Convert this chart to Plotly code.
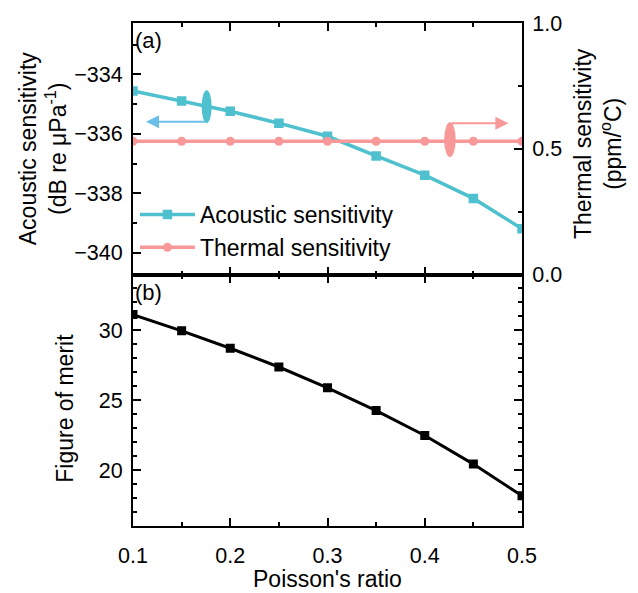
import plotly.graph_objects as go

# ---- data ----
poisson = [0.10, 0.15, 0.20, 0.25, 0.30, 0.35, 0.40, 0.45, 0.50]
acoustic = [-334.56, -334.89, -335.24, -335.64, -336.08, -336.74, -337.39, -338.17, -339.19]
thermal = [0.53, 0.53, 0.53, 0.53, 0.53, 0.53, 0.53, 0.53, 0.53]
fom = [31.13, 29.97, 28.72, 27.38, 25.89, 24.26, 22.48, 20.43, 18.16]

TEAL = "#4FC0CE"
PINK = "#F89898"
ARROW_BLUE = "#6BC0EA"
FONT = "Arial, Liberation Sans, sans-serif"
TITLE_SIZE = 23

fig = go.Figure()
fig.add_trace(go.Scatter(x=poisson, y=acoustic, name="Acoustic sensitivity",
                         mode="lines+markers", xaxis="x", yaxis="y",
                         line=dict(color=TEAL, width=3.5),
                         marker=dict(symbol="square", size=9.5, color=TEAL)))
fig.add_trace(go.Scatter(x=poisson, y=thermal, name="Thermal sensitivity",
                         mode="lines+markers", xaxis="x", yaxis="y2",
                         line=dict(color=PINK, width=3.5),
                         marker=dict(symbol="circle", size=9, color=PINK)))
fig.add_trace(go.Scatter(x=poisson, y=fom, name="Figure of merit", showlegend=False,
                         mode="lines+markers", xaxis="x2", yaxis="y3",
                         line=dict(color="black", width=3),
                         marker=dict(symbol="square", size=9, color="black")))

axis_common = dict(showline=True, linecolor="black", linewidth=2, ticks="inside",
                   ticklen=8, tickwidth=2, tickcolor="black", showgrid=False,
                   zeroline=False, tickfont=dict(size=21.5, color="black", family=FONT))
minor_common = dict(ticks="inside", ticklen=4, tickwidth=2, tickcolor="black", showgrid=False)

fig.update_layout(
    width=638, height=593,
    margin=dict(l=133, r=116, t=18, b=67),
    paper_bgcolor="white", plot_bgcolor="white",
    font=dict(family=FONT, size=21, color="black"),
    xaxis=dict(domain=[0, 1], anchor="y", range=[0.1, 0.5], dtick=0.1, tick0=0,
               showticklabels=False, mirror="ticks",
               minor=dict(dtick=0.05, **minor_common), **axis_common),
    yaxis=dict(domain=[0.5, 1], anchor="x", range=[-340.73, -332.27], dtick=2, tick0=0,
               mirror=False, ticklabelstandoff=4,
               minor=dict(dtick=1, **minor_common), **axis_common),
    yaxis2=dict(overlaying="y", anchor="x", side="right", range=[0, 1], dtick=0.5, tick0=0,
                tickformat=".1f", ticklabelstandoff=4,
                minor=dict(dtick=0.25, **minor_common), **axis_common),
    xaxis2=dict(domain=[0, 1], anchor="y3", range=[0.1, 0.5], dtick=0.1, tick0=0,
                tickformat=".1f", mirror="ticks", ticklabelstandoff=9,
                minor=dict(dtick=0.05, **minor_common), **axis_common),
    yaxis3=dict(domain=[0, 0.5], anchor="x2", range=[16, 34], dtick=5, tick0=0,
                mirror="ticks", ticklabelstandoff=4,
                minor=dict(dtick=1, **minor_common), **axis_common),
    legend=dict(x=0.005, y=0.662, xanchor="left", yanchor="top", bgcolor="rgba(0,0,0,0)",
                font=dict(size=TITLE_SIZE, family=FONT, color="black"), tracegroupgap=0,
                itemwidth=55),
    showlegend=True,
)

# ellipses
fig.add_shape(type="circle", xref="x", yref="y", x0=0.1706, x1=0.1809, y0=-335.64, y1=-334.53,
              fillcolor=TEAL, line=dict(width=0))
fig.add_shape(type="circle", xref="x", yref="y2", x0=0.420, x1=0.4318, y0=0.467, y1=0.605,
              fillcolor=PINK, line=dict(width=0))

annotations = [
    dict(x=0.1134, y=-335.59, ax=0.176, ay=-335.59, xref="x", yref="y", axref="x", ayref="y",
         showarrow=True, arrowhead=2, arrowsize=1.3, arrowwidth=2, arrowcolor=ARROW_BLUE, text=""),
    dict(x=0.486, y=0.601, ax=0.426, ay=0.601, xref="x", yref="y2", axref="x", ayref="y2",
         showarrow=True, arrowhead=2, arrowsize=1.3, arrowwidth=2, arrowcolor=PINK, text=""),
    dict(text="(a)", x=0.0, y=0.965, xref="paper", yref="paper", xanchor="left", yanchor="middle",
         showarrow=False, font=dict(size=22)),
    dict(text="(b)", x=0.0, y=0.4646, xref="paper", yref="paper", xanchor="left", yanchor="middle",
         showarrow=False, font=dict(size=22)),
    dict(text="Acoustic sensitivity<br>(dB re μPa<sup>-1</sup>)", x=-0.2327, y=0.752,
         xref="paper", yref="paper", xanchor="center", yanchor="middle", textangle=-90,
         showarrow=False, font=dict(size=TITLE_SIZE)),
    dict(text="Thermal sensitivity<br>(ppm/<sup>o</sup>C)", x=1.195, y=0.761,
         xref="paper", yref="paper", xanchor="center", yanchor="middle", textangle=-90,
         showarrow=False, font=dict(size=TITLE_SIZE)),
    dict(text="Figure of merit", x=-0.175, y=0.235, xref="paper", yref="paper",
         xanchor="center", yanchor="middle", textangle=-90, showarrow=False,
         font=dict(size=TITLE_SIZE)),
    dict(text="Poisson's ratio", x=0.5, y=-0.106, xref="paper", yref="paper",
         xanchor="center", yanchor="middle", showarrow=False, font=dict(size=TITLE_SIZE)),
]
fig.update_layout(annotations=annotations)

fig.write_html("out.html", config={"displayModeBar": False},
               post_script="document.body.style.margin='0';document.body.style.overflow='hidden';")
